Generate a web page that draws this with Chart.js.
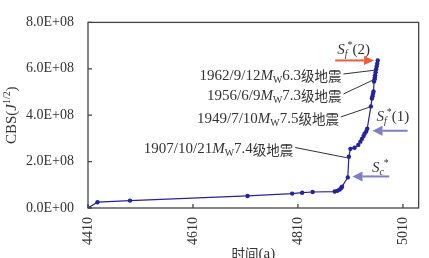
<!DOCTYPE html>
<html>
<head>
<meta charset="utf-8">
<script src="https://cdn.jsdelivr.net/npm/chart.js@4/dist/chart.umd.min.js"></script>
<style>
  html, body { margin: 0; padding: 0; background: #fff; }
</style>
</head>
<body>
<canvas id="cbsChart" width="429" height="258"></canvas>
<script>
// time axis (year + 3000) and cumulative Benioff strain
const years = [4410, 4428, 4490, 4714, 4799, 4818, 4838, 4880, 4885, 4889, 4892, 4894,
  4905, 4907, 4910, 4918, 4925, 4929, 4932, 4935, 4937, 4940, 4942, 4949,
  4951, 4952, 4953, 4954, 4955, 4956, 4956.5, 4957, 4958, 4959, 4960, 4961, 4962];
const cbs = [0, 0.25e8, 0.32e8, 0.52e8, 0.62e8, 0.66e8, 0.69e8, 0.71e8, 0.74e8, 0.79e8, 0.85e8, 0.92e8,
  1.32e8, 2.21e8, 2.55e8, 2.60e8, 2.72e8, 2.86e8, 2.98e8, 3.10e8, 3.20e8, 3.30e8, 3.42e8, 4.38e8,
  4.72e8, 4.82e8, 4.92e8, 5.02e8, 5.45e8, 5.55e8, 5.62e8, 5.72e8, 5.85e8, 5.98e8, 6.10e8, 6.22e8, 6.36e8];

const xTicks = [4410, 4610, 4810, 5010];
const yTicks = [0, 2e8, 4e8, 6e8, 8e8];
const yTickLabels = ['0.0E+00', '2.0E+08', '4.0E+08', '6.0E+08', '8.0E+08'];

// earthquakes: date, magnitude, point on curve
const quakeDates = ['1962/9/12', '1956/6/9', '1949/7/10', '1907/10/21'];
const quakeMags = ['6.3', '7.3', '7.5', '7.4'];
const quakeAt = [[4959, 5.98e8], [4956, 5.55e8], [4949, 4.38e8], [4907, 2.21e8]];

// label anchors (right end, data units)
const quakeLabelPos = [[4893, 5.69e8], [4893, 4.83e8], [4888, 3.84e8], [4801, 2.52e8]];

const SERIF = '"Liberation Serif", "Times New Roman", "Noto Sans CJK SC", serif';
const TEXT = '#333';
const BLUE = '#23239b';

function segFont(s, size) {
  let fs = size;
  if (s.sub || s.sup) fs = size * 0.66;
  if (s.cjk) fs = size * 0.9;
  return (s.i ? 'italic ' : '') + fs + 'px ' + (s.cjk ? '"Noto Sans CJK SC", sans-serif' : SERIF);
}

function drawRich(ctx, segs, x, y, size, align) {
  ctx.save();
  ctx.textBaseline = 'middle';
  ctx.textAlign = 'left';
  let w = 0;
  segs.forEach(s => { ctx.font = segFont(s, size); w += ctx.measureText(s.t).width + (s.gap || 0); });
  let cx = align === 'right' ? x - w : align === 'center' ? x - w / 2 : x;
  segs.forEach(s => {
    ctx.font = segFont(s, size);
    const dy = s.sub ? size * 0.28 : s.sup ? -size * 0.32 : 0;
    ctx.fillText(s.t, cx, y + dy);
    cx += ctx.measureText(s.t).width + (s.gap || 0);
  });
  ctx.restore();
  return w;
}

function arrow(ctx, x0, y0, x1, y1, color, lw, hl, hw) {
  const a = Math.atan2(y1 - y0, x1 - x0);
  const bx = x1 - hl * Math.cos(a), by = y1 - hl * Math.sin(a);
  ctx.save();
  ctx.strokeStyle = color; ctx.fillStyle = color; ctx.lineWidth = lw;
  ctx.beginPath(); ctx.moveTo(x0, y0); ctx.lineTo(bx, by); ctx.stroke();
  ctx.beginPath();
  ctx.moveTo(x1, y1);
  ctx.lineTo(bx + hw * Math.sin(a), by - hw * Math.cos(a));
  ctx.lineTo(bx - hw * Math.sin(a), by + hw * Math.cos(a));
  ctx.closePath(); ctx.fill();
  ctx.restore();
}

const decorations = {
  id: 'decorations',
  afterDraw(chart) {
    const { ctx, chartArea: a, scales: { x, y } } = chart;
    ctx.save();
    // frame
    ctx.strokeStyle = '#444'; ctx.lineWidth = 1.3;
    ctx.strokeRect(a.left, a.top, a.right - a.left, a.bottom - a.top);
    // inward ticks
    ctx.beginPath();
    xTicks.forEach(v => { const px = x.getPixelForValue(v); ctx.moveTo(px, a.bottom); ctx.lineTo(px, a.bottom - 4); });
    yTicks.forEach(v => { const py = y.getPixelForValue(v); ctx.moveTo(a.left, py); ctx.lineTo(a.left + 4, py); });
    ctx.stroke();

    // quake labels + leaders
    ctx.fillStyle = TEXT;
    quakeDates.forEach((d, i) => {
      const lx = x.getPixelForValue(quakeLabelPos[i][0]);
      const ly = y.getPixelForValue(quakeLabelPos[i][1]);
      drawRich(ctx, [{ t: d }, { t: 'M', i: 1 }, { t: 'W', sub: 1 }, { t: quakeMags[i] }, { t: '级地震', cjk: 1 }], lx, ly, 15, 'right');
      const px = x.getPixelForValue(quakeAt[i][0]);
      const py = y.getPixelForValue(quakeAt[i][1]);
      ctx.strokeStyle = '#333'; ctx.lineWidth = 1;
      ctx.beginPath(); ctx.moveTo(lx + 2, ly - 2); ctx.lineTo(px - 2, py + 1); ctx.stroke();
    });

    // critical-point arrows
    const top = cbs[cbs.length - 1];
    arrow(ctx, x.getPixelForValue(4881), y.getPixelForValue(top), x.getPixelForValue(4955), y.getPixelForValue(top), '#ef5a3c', 2, 10, 4.5);
    arrow(ctx, x.getPixelForValue(5019), y.getPixelForValue(3.33e8), x.getPixelForValue(4952), y.getPixelForValue(3.33e8), '#7d7dc8', 2, 10, 5);
    arrow(ctx, x.getPixelForValue(4984), y.getPixelForValue(1.36e8), x.getPixelForValue(4914), y.getPixelForValue(1.36e8), '#7d7dc8', 2, 10, 5);

    ctx.fillStyle = TEXT;
    drawRich(ctx, [{ t: 'S', i: 1 }, { t: 'f', i: 1, sub: 1 }, { t: '*', sup: 1 }, { t: '(2)' }], x.getPixelForValue(4916), y.getPixelForValue(6.8e8), 15, 'center');
    drawRich(ctx, [{ t: 'S', i: 1 }, { t: 'f', i: 1, sub: 1 }, { t: '*', sup: 1 }, { t: '(1)' }], x.getPixelForValue(4991), y.getPixelForValue(3.92e8), 15, 'center');
    drawRich(ctx, [{ t: 'S', i: 1 }, { t: 'c', i: 1, sub: 1 }, { t: '*', sup: 1 }], x.getPixelForValue(4967), y.getPixelForValue(1.73e8), 15, 'center');

    // axis titles
    drawRich(ctx, [{ t: '时间', cjk: 1 }, { t: '(a)' }], (a.left + a.right) / 2, 254, 15, 'center');
    ctx.save();
    ctx.translate(12, (a.top + a.bottom) / 2);
    ctx.rotate(-Math.PI / 2);
    drawRich(ctx, [{ t: 'CBS(' }, { t: 'J', i: 1 }, { t: '1/2', sup: 1 }, { t: ')' }], 0, 0, 15, 'center');
    ctx.restore();
    ctx.restore();
  }
};

new Chart(document.getElementById('cbsChart'), {
  type: 'scatter',
  data: {
    datasets: [{
      data: years.map((t, i) => ({ x: t, y: cbs[i] })),
      showLine: true,
      borderColor: BLUE,
      backgroundColor: BLUE,
      borderWidth: 1.2,
      pointRadius: 2.2,
      pointHoverRadius: 2.2,
      pointBorderWidth: 0
    }]
  },
  options: {
    responsive: false,
    animation: false,
    devicePixelRatio: 1,
    layout: { padding: { top: 14, right: 6, left: 0, bottom: 0 } },
    plugins: { legend: { display: false }, tooltip: { enabled: false } },
    scales: {
      x: {
        type: 'linear',
        min: 4410,
        max: 5040,
        grid: { display: false, drawTicks: false },
        border: { display: false },
        afterBuildTicks: s => { s.ticks = xTicks.map(v => ({ value: v })); },
        afterFit: s => { s.height = 50; },
        ticks: {
          autoSkip: false,
          minRotation: 90,
          maxRotation: 90,
          padding: 9,
          color: TEXT,
          font: { family: SERIF, size: 14 },
          callback: v => String(v)
        }
      },
      y: {
        min: 0,
        max: 8e8,
        grid: { display: false, drawTicks: false },
        border: { display: false },
        afterBuildTicks: s => { s.ticks = yTicks.map(v => ({ value: v })); },
        afterFit: s => { s.width = 88; },
        ticks: {
          padding: 14,
          color: TEXT,
          font: { family: SERIF, size: 14 },
          callback: v => yTickLabels[yTicks.indexOf(v)]
        }
      }
    }
  },
  plugins: [decorations]
});
</script>
</body>
</html>
